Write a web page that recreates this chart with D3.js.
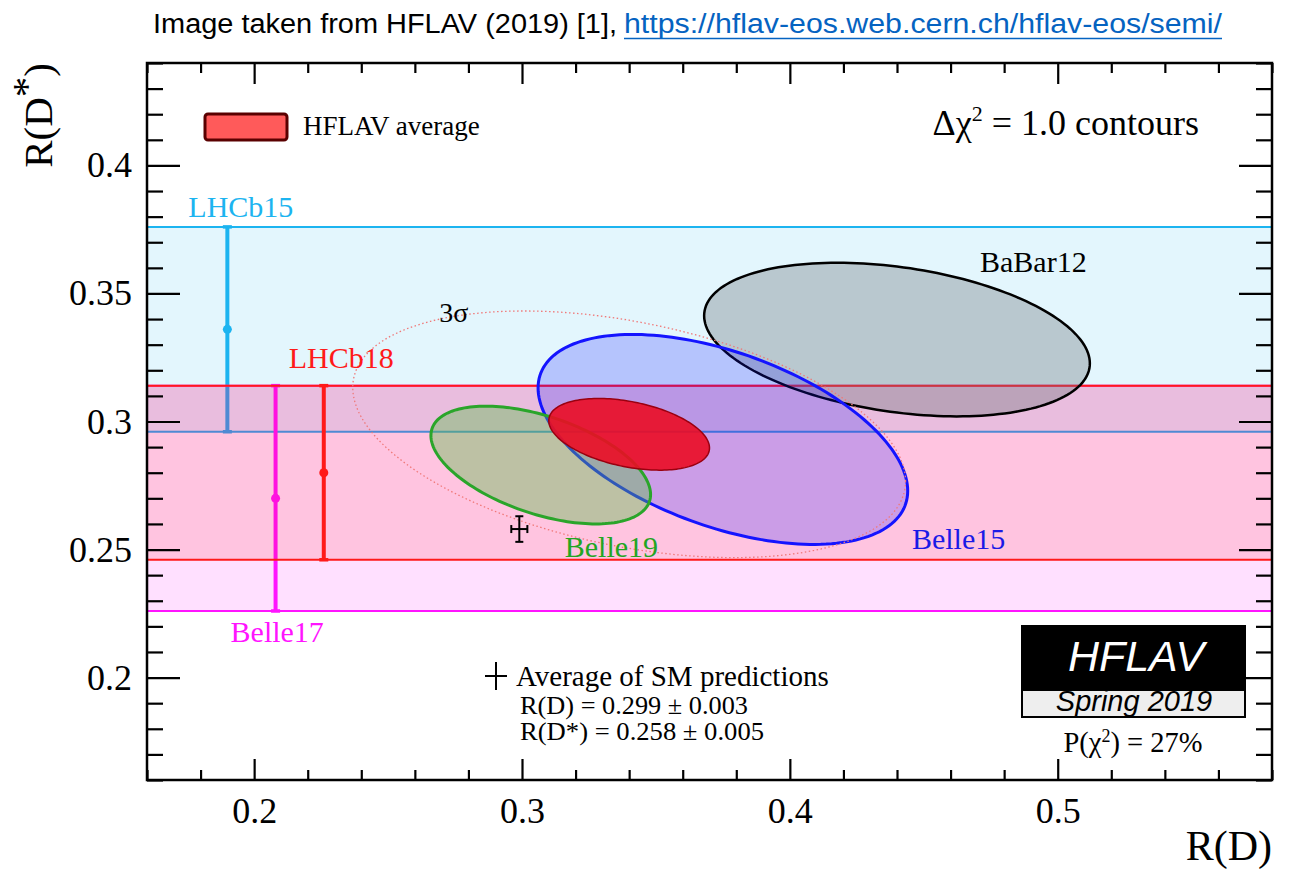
<!DOCTYPE html>
<html>
<head>
<meta charset="utf-8">
<script src="https://cdn.jsdelivr.net/npm/d3@7"></script>
<style>
body { margin: 0; background: #fff; }
svg { display: block; }
text { font-family: "Liberation Serif", "Times New Roman", serif; }
</style>
</head>
<body>
<script>
// Delta chi2 = 1 contours: R(D), R(D*) measurements with correlation
var ellNames = ["BaBar12", "Belle15", "Belle19", "HFLAV average"];
var ellRD = [0.440, 0.375, 0.307, 0.340];
var ellRDerr = [0.072, 0.069, 0.041, 0.030];
var ellRDs = [0.332, 0.293, 0.283, 0.295];
var ellRDserr = [0.030, 0.041, 0.023, 0.014];
var ellRho = [-0.31, -0.49, -0.50, -0.38];

// R(D*)-only measurements (bands + error bar)
var bandNames = ["LHCb15", "Belle17", "LHCb18"];
var bandRD = [0.190, 0.208, 0.226];
var bandRDs = [0.336, 0.270, 0.280];
var bandErr = [0.040, 0.044, 0.034];

// SM prediction
var smRD = [0.299, 0.003];
var smRDs = [0.258, 0.005];
var sigma3 = 3.44; // 3 sigma for 2 dof

// axes
var xDomain = [0.16, 0.58];
var yDomain = [0.16, 0.44];
var xMajor = [0.2, 0.3, 0.4, 0.5];
var yMajor = [0.2, 0.25, 0.3, 0.35, 0.4];
var xMinor = [0.16, 0.18, 0.22, 0.24, 0.26, 0.28, 0.32, 0.34, 0.36, 0.38, 0.42, 0.44, 0.46, 0.48, 0.52, 0.54, 0.56, 0.58];
var yMinor = [0.16, 0.17, 0.18, 0.19, 0.21, 0.22, 0.23, 0.24, 0.26, 0.27, 0.28, 0.29, 0.31, 0.32, 0.33, 0.34, 0.36, 0.37, 0.38, 0.39, 0.41, 0.42, 0.43, 0.44];

var fr = {left: 147, right: 1272, top: 63, bottom: 780};

var bandStyle = {
	LHCb15: {line: "#1cb4f0", fill: "rgba(0,175,240,0.11)", lx: -39, ly: -10},
	Belle17: {line: "#ff14ff", fill: "rgba(255,0,255,0.12)", lx: -45, ly: 31},
	LHCb18: {line: "#ff1a1a", fill: "rgba(255,0,0,0.12)", lx: -35, ly: -18}
};
var ellStyle = {
	"BaBar12": {fill: "rgba(105,115,120,0.35)", stroke: "#000", sw: 2.5, col: "#000", lx: 83, ly: -68},
	"Belle15": {fill: "rgba(20,20,255,0.22)", stroke: "#1414ff", sw: 3, col: "#1a1ae6", lx: 189, ly: 110},
	"Belle19": {fill: "rgba(90,190,75,0.4)", stroke: "#2aa52a", sw: 3, col: "#22a522", lx: 24, ly: 92},
	"HFLAV average": {fill: "rgba(235,12,35,0.9)", stroke: "#9a0010", sw: 1.5}
};

var svg = d3.select("body").append("svg")
	.attr("width", 1289)
	.attr("height", 869);

var x = d3.scaleLinear().domain(xDomain).range([fr.left, fr.right]);
var y = d3.scaleLinear().domain(yDomain).range([fr.bottom, fr.top]);

// title line
svg.append("text")
	.attr("x", 153).attr("y", 33)
	.style("font-family", "'Liberation Sans Narrow', 'Arial Narrow', 'Liberation Sans', sans-serif")
	.style("font-size", "27px")
	.attr("textLength", 464).attr("lengthAdjust", "spacingAndGlyphs")
	.text("Image taken from HFLAV (2019) [1],");
svg.append("text")
	.attr("x", 624).attr("y", 33)
	.style("font-family", "'Liberation Sans Narrow', 'Arial Narrow', 'Liberation Sans', sans-serif")
	.style("font-size", "27px")
	.attr("fill", "#0563c1")
	.attr("textLength", 598).attr("lengthAdjust", "spacingAndGlyphs")
	.text("https://hflav-eos.web.cern.ch/hflav-eos/semi/");
svg.append("line")
	.attr("x1", 624).attr("x2", 1222).attr("y1", 38.5).attr("y2", 38.5)
	.attr("stroke", "#0563c1").attr("stroke-width", 1.5);

svg.append("clipPath").attr("id", "clip")
	.append("rect")
	.attr("x", fr.left).attr("y", fr.top)
	.attr("width", fr.right - fr.left).attr("height", fr.bottom - fr.top);

var plot = svg.append("g").attr("clip-path", "url(#clip)");

// Bands
bandNames.forEach(function(name, i) {
	var st = bandStyle[name];
	var top = bandRDs[i] + bandErr[i], bot = bandRDs[i] - bandErr[i];
	plot.append("rect")
		.attr("x", fr.left).attr("width", fr.right - fr.left)
		.attr("y", y(top)).attr("height", y(bot) - y(top))
		.attr("fill", st.fill);
	[top, bot].forEach(function(v) {
		plot.append("line")
			.attr("x1", fr.left).attr("x2", fr.right)
			.attr("y1", y(v)).attr("y2", y(v))
			.attr("stroke", st.line).attr("stroke-width", 2);
	});
	// error bar
	plot.append("line")
		.attr("x1", x(bandRD[i])).attr("x2", x(bandRD[i]))
		.attr("y1", y(top)).attr("y2", y(bot))
		.attr("stroke", st.line).attr("stroke-width", 4);
	[top, bot].forEach(function(v) {
		plot.append("line")
			.attr("x1", x(bandRD[i]) - 4.5).attr("x2", x(bandRD[i]) + 4.5)
			.attr("y1", y(v)).attr("y2", y(v))
			.attr("stroke", st.line).attr("stroke-width", 3.5);
	});
	plot.append("circle")
		.attr("cx", x(bandRD[i])).attr("cy", y(bandRDs[i]))
		.attr("r", 4.5).attr("fill", st.line);
});

bandNames.forEach(function(name, i) {
	var st = bandStyle[name];
	var ref = name == "Belle17" ? bandRDs[i] - bandErr[i] : bandRDs[i] + bandErr[i];
	svg.append("text")
		.attr("x", x(bandRD[i]) + st.lx).attr("y", y(ref) + st.ly)
		.attr("fill", st.line)
		.style("font-size", "30px")
		.text(name);
});

// Ellipses
function ellipsePts(i, k) {
	var pts = [];
	var r = ellRho[i];
	for (var t = 0; t < 360; t += 2) {
		var a = t * Math.PI / 180;
		pts.push([
			ellRD[i] + k * ellRDerr[i] * Math.cos(a),
			ellRDs[i] + k * ellRDserr[i] * (r * Math.cos(a) + Math.sqrt(1 - r * r) * Math.sin(a))
		]);
	}
	return pts;
}
var ellLine = d3.line()
	.x(d => x(d[0]))
	.y(d => y(d[1]))
	.curve(d3.curveLinearClosed);

var avg = ellNames.indexOf("HFLAV average");

ellNames.forEach(function(name, i) {
	var st = ellStyle[name];
	if (name == "HFLAV average") {
		// 3 sigma contour
		plot.append("path")
			.attr("d", ellLine(ellipsePts(i, sigma3)))
			.attr("fill", "none")
			.attr("stroke", "#f07878")
			.attr("stroke-width", 1.3)
			.attr("stroke-dasharray", "1.5,2.5");
	}
	plot.append("path")
		.attr("d", ellLine(ellipsePts(i, 1)))
		.attr("fill", st.fill)
		.attr("stroke", st.stroke)
		.attr("stroke-width", st.sw);
	if (st.col) {
		svg.append("text")
			.attr("x", x(ellRD[i]) + st.lx).attr("y", y(ellRDs[i]) + st.ly)
			.attr("fill", st.col)
			.style("font-size", "30px")
			.text(name);
	}
});

svg.append("text")
	.attr("x", x(ellRD[avg]) - 190).attr("y", y(ellRDs[avg]) - 112)
	.style("font-size", "28px")
	.text("3σ");

// SM point
var smg = plot.append("g").attr("stroke", "#000").attr("stroke-width", 2);
smg.append("line")
	.attr("x1", x(smRD[0] - smRD[1])).attr("x2", x(smRD[0] + smRD[1]))
	.attr("y1", y(smRDs[0])).attr("y2", y(smRDs[0]));
smg.append("line")
	.attr("x1", x(smRD[0])).attr("x2", x(smRD[0]))
	.attr("y1", y(smRDs[0] - smRDs[1])).attr("y2", y(smRDs[0] + smRDs[1]));
[smRD[0] - smRD[1], smRD[0] + smRD[1]].forEach(function(v) {
	smg.append("line").attr("x1", x(v)).attr("x2", x(v))
		.attr("y1", y(smRDs[0]) - 4).attr("y2", y(smRDs[0]) + 4);
});
[smRDs[0] - smRDs[1], smRDs[0] + smRDs[1]].forEach(function(v) {
	smg.append("line").attr("y1", y(v)).attr("y2", y(v))
		.attr("x1", x(smRD[0]) - 4).attr("x2", x(smRD[0]) + 4);
});

// HFLAV average legend
svg.append("rect")
	.attr("x", 205).attr("y", 114).attr("width", 82).attr("height", 26)
	.attr("rx", 3)
	.attr("fill", "#ff5a5a").attr("stroke", "#5a0000").attr("stroke-width", 3);
svg.append("text")
	.attr("x", 303).attr("y", 135)
	.style("font-size", "27px")
	.text("HFLAV average");

// delta chi2 note
var dc = svg.append("text")
	.attr("x", 1199).attr("y", 135)
	.attr("text-anchor", "end")
	.style("font-size", "36px");
dc.append("tspan").text("Δχ");
dc.append("tspan").attr("dy", -14).style("font-size", "22px").text("2");
dc.append("tspan").attr("dy", 14).text(" = 1.0 contours");

// SM legend
svg.append("line").attr("x1", 485).attr("x2", 507).attr("y1", 676).attr("y2", 676)
	.attr("stroke", "#000").attr("stroke-width", 2);
svg.append("line").attr("x1", 496).attr("x2", 496).attr("y1", 662).attr("y2", 690)
	.attr("stroke", "#000").attr("stroke-width", 2);
svg.append("text").attr("x", 516).attr("y", 686)
	.style("font-size", "29px")
	.text("Average of SM predictions");
svg.append("text").attr("x", 520).attr("y", 714)
	.style("font-size", "25px")
	.attr("textLength", 228).attr("lengthAdjust", "spacingAndGlyphs")
	.text("R(D) = " + smRD[0].toFixed(3) + " ± " + smRD[1].toFixed(3));
svg.append("text").attr("x", 520).attr("y", 740)
	.style("font-size", "25px")
	.attr("textLength", 244).attr("lengthAdjust", "spacingAndGlyphs")
	.text("R(D*) = " + smRDs[0].toFixed(3) + " ± " + smRDs[1].toFixed(3));

// HFLAV logo
svg.append("rect").attr("x", 1021).attr("y", 625).attr("width", 225).attr("height", 65)
	.attr("fill", "#000");
svg.append("rect").attr("x", 1022).attr("y", 690).attr("width", 223).attr("height", 27)
	.attr("fill", "#eeeeee").attr("stroke", "#000").attr("stroke-width", 2);
svg.append("text").attr("x", 1136).attr("y", 671)
	.attr("text-anchor", "middle").attr("fill", "#fff")
	.style("font-family", "'Liberation Sans', Arial, sans-serif")
	.style("font-style", "italic").style("font-size", "43px")
	.text("HFLAV");
svg.append("text").attr("x", 1134).attr("y", 711)
	.attr("text-anchor", "middle").attr("fill", "#000")
	.style("font-family", "'Liberation Sans', Arial, sans-serif")
	.style("font-style", "italic").style("font-size", "29px")
	.text("Spring 2019");
var pc = svg.append("text").attr("x", 1133).attr("y", 752)
	.attr("text-anchor", "middle")
	.style("font-size", "28.5px");
pc.append("tspan").text("P(χ");
pc.append("tspan").attr("dy", -10).style("font-size", "18px").text("2");
pc.append("tspan").attr("dy", 10).text(") = 27%");

// Axes
function styleAxis(g) {
	g.select(".domain").remove();
	g.selectAll(".tick line").attr("stroke", "#000").attr("stroke-width", 2.2);
	g.selectAll("text").attr("fill", "#000")
		.style("font-family", "'Liberation Serif', 'Times New Roman', serif")
		.style("font-size", "36px");
}
svg.append("g").attr("transform", "translate(0," + fr.bottom + ")")
	.call(d3.axisBottom(x).tickValues(xMajor).tickSize(-21).tickPadding(17).tickFormat(d => String(d)))
	.call(styleAxis);
svg.append("g").attr("transform", "translate(0," + fr.bottom + ")")
	.call(d3.axisBottom(x).tickValues(xMinor).tickSize(-10).tickFormat(""))
	.call(styleAxis);
svg.append("g").attr("transform", "translate(0," + fr.top + ")")
	.call(d3.axisTop(x).tickValues(xMajor).tickSize(-21).tickFormat(""))
	.call(styleAxis);
svg.append("g").attr("transform", "translate(0," + fr.top + ")")
	.call(d3.axisTop(x).tickValues(xMinor).tickSize(-10).tickFormat(""))
	.call(styleAxis);
svg.append("g").attr("transform", "translate(" + fr.left + ",0)")
	.call(d3.axisLeft(y).tickValues(yMajor).tickSize(-33).tickPadding(15).tickFormat(d => String(d)))
	.call(styleAxis);
svg.append("g").attr("transform", "translate(" + fr.left + ",0)")
	.call(d3.axisLeft(y).tickValues(yMinor).tickSize(-16).tickFormat(""))
	.call(styleAxis);
svg.append("g").attr("transform", "translate(" + fr.right + ",0)")
	.call(d3.axisRight(y).tickValues(yMajor).tickSize(-33).tickFormat(""))
	.call(styleAxis);
svg.append("g").attr("transform", "translate(" + fr.right + ",0)")
	.call(d3.axisRight(y).tickValues(yMinor).tickSize(-16).tickFormat(""))
	.call(styleAxis);

// frame
svg.append("rect")
	.attr("x", fr.left).attr("y", fr.top)
	.attr("width", fr.right - fr.left).attr("height", fr.bottom - fr.top)
	.attr("fill", "none").attr("stroke", "#000").attr("stroke-width", 2.5);

// axis titles
svg.append("text")
	.attr("x", 1272).attr("y", 860)
	.attr("text-anchor", "end")
	.style("font-size", "42px")
	.text("R(D)");
var yt = svg.append("text")
	.attr("transform", "translate(52,63) rotate(-90)")
	.attr("text-anchor", "end")
	.style("font-size", "41px");
yt.append("tspan").text("R(D");
yt.append("tspan").attr("dy", -12).text("*");
yt.append("tspan").attr("dy", 12).text(")");
</script>
</body>
</html>
